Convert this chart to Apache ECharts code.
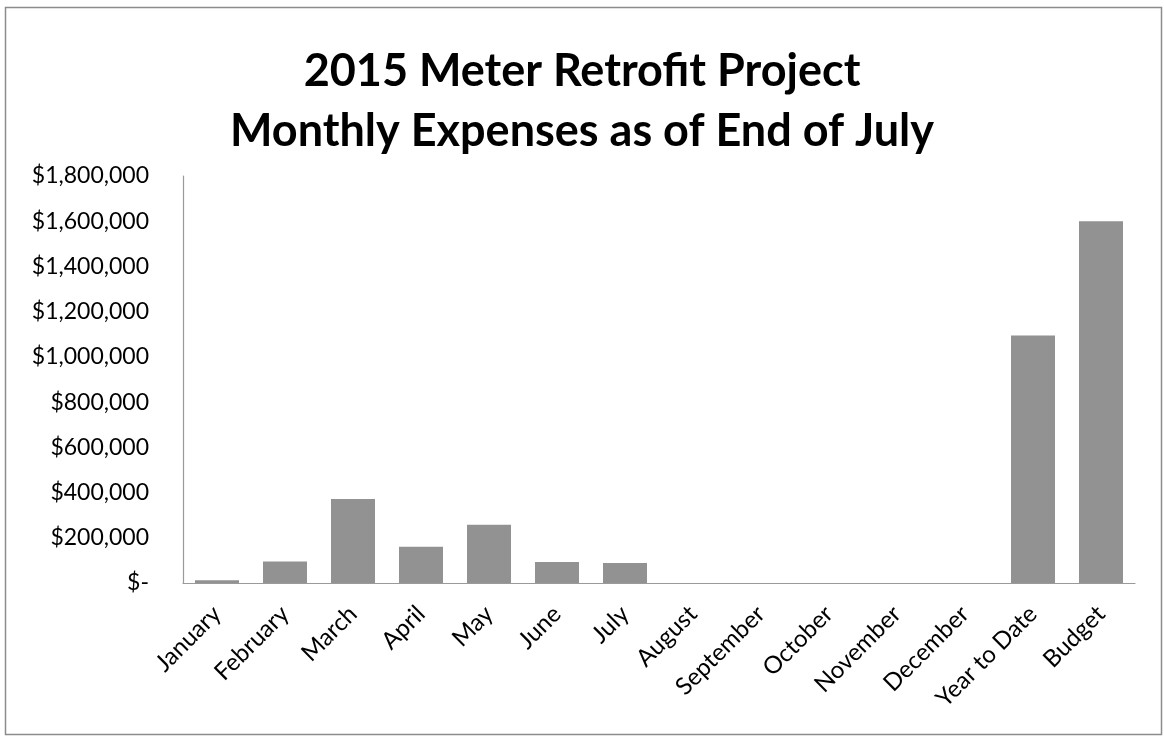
<!DOCTYPE html>
<html>
<head>
<meta charset="utf-8">
<script src="https://cdn.jsdelivr.net/npm/echarts@6/dist/echarts.min.js"></script>
<style>
  html, body { margin: 0; padding: 0; background: #fff; }
  #chart { width: 1164px; height: 736px; }
</style>
</head>
<body>
<div id="chart"></div>
<script>
// Categories along the x axis
const categories = [
  'January', 'February', 'March', 'April', 'May', 'June', 'July',
  'August', 'September', 'October', 'November', 'December',
  'Year to Date', 'Budget'
];

// Monthly spend (USD); months after July have no spend yet
const expenses = [
  12000, 95000, 372000, 160000, 258000, 93000, 88000,
  0, 0, 0, 0, 0,
  1095000, 1600000
];

// Value axis range
const yMin = 0;
const yMax = 1800000;
const yStep = 200000;

const titleLines = [
  '2015 Meter Retrofit Project',
  'Monthly Expenses as of End of July'
];

function formatDollars(v) {
  if (v === 0) return '$-';
  return '$' + v.toLocaleString('en-US');
}

const chart = echarts.init(document.getElementById('chart'), null, { renderer: 'canvas' });

chart.setOption({
  backgroundColor: '#ffffff',
  animation: false,
  title: {
    text: titleLines.join('\n'),
    left: 'center',
    top: 36,
    textStyle: {
      fontFamily: 'Lato',
      fontWeight: 'bold',
      fontSize: 45,
      lineHeight: 60,
      color: '#000000'
    }
  },
  graphic: [{
    type: 'rect',
    shape: { x: 5.5, y: 7.5, width: 1156, height: 727 },
    style: { fill: 'none', stroke: '#8c8c8c', lineWidth: 1.5 },
    silent: true
  }],
  grid: {
    left: 183,
    right: 29,
    top: 176,
    bottom: 153,
    containLabel: false
  },
  xAxis: {
    type: 'category',
    data: categories,
    axisLine: { show: true, lineStyle: { color: '#9a9a9a', width: 1.2 } },
    axisTick: { show: false },
    axisLabel: {
      rotate: 45,
      margin: 27,
      interval: 0,
      fontFamily: 'Lato',
      fontSize: 24,
      color: '#000000'
    }
  },
  yAxis: {
    type: 'value',
    min: yMin,
    max: yMax,
    interval: yStep,
    axisLine: { show: true, lineStyle: { color: '#9a9a9a', width: 1.2 } },
    axisTick: { show: false },
    splitLine: { show: false },
    axisLabel: {
      margin: 34,
      fontFamily: 'Lato',
      fontSize: 23,
      color: '#000000',
      formatter: formatDollars
    }
  },
  series: [{
    type: 'bar',
    data: expenses,
    barWidth: 44,
    itemStyle: {
      color: '#929292'
    }
  }]
});
</script>
</body>
</html>
